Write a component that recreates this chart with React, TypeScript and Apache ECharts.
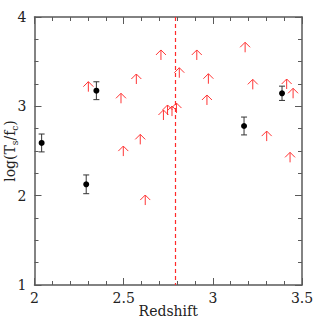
import React, { useEffect, useRef } from "react";
import * as echarts from "echarts";

// Lower limits (red upward arrows): redshift, log(Ts/fc)
const arrowX = [2.302, 2.571, 2.485, 2.709, 2.910, 2.812, 2.975, 2.967, 3.181, 3.224, 3.414, 3.450, 2.593, 2.498, 2.621, 3.302, 3.433, 2.723, 2.746, 2.771, 2.796];
const arrowY = [3.164, 3.250, 3.034, 3.519, 3.519, 3.320, 3.253, 3.015, 3.605, 3.190, 3.194, 3.090, 2.574, 2.443, 1.895, 2.611, 2.373, 2.847, 2.903, 2.891, 2.925];

// Detections (black points with error bars)
const pointX = [2.04, 2.29, 2.347, 3.175, 3.388];
const pointY = [2.59, 2.127, 3.175, 2.78, 3.146];
const pointErr = [0.1, 0.105, 0.1, 0.1, 0.08];

// Vertical dashed reference line
const refLineX = 2.79;

const xTicks = [2, 2.5, 3, 3.5];
const yTicks = [1, 2, 3, 4];

const RED = "#ff3535";
const AXIS = "#5a5a5a";
const FONT = "DejaVu Serif";

export default function App() {
  const ref = useRef<HTMLDivElement>(null);
  useEffect(() => {
    if (!ref.current) return;
    const chart = echarts.init(ref.current, null, { renderer: "svg" });
    const axisCommon = {
      type: "value",
      axisLine: { show: true, lineStyle: { color: AXIS, width: 1.5 } },
      axisTick: { show: true, inside: true, length: 7, lineStyle: { color: AXIS, width: 1 } },
      minorTick: { show: true, length: 4, lineStyle: { color: AXIS, width: 1 } },
      splitLine: { show: false },
      minorSplitLine: { show: false },
      axisPointer: { show: false },
    };
    const yMin = yTicks[0];
    const yMax = yTicks[yTicks.length - 1];
    chart.setOption({
      animation: false,
      backgroundColor: "#fff",
      tooltip: { show: false },
      grid: { left: 34.5, right: 17, top: 17, bottom: 34, containLabel: false, outerBoundsMode: "none" },
      xAxis: [
        {
          ...axisCommon,
          min: xTicks[0],
          max: xTicks[xTicks.length - 1],
          interval: 0.5,
          minorTick: { ...axisCommon.minorTick, splitNumber: 5 },
          axisLabel: {
            show: true,
            color: "#222",
            fontFamily: FONT,
            fontSize: 14,
            margin: 6,
            formatter: (v: number) => (xTicks.includes(v) ? String(v) : ""),
          },
          name: "Redshift",
          nameLocation: "middle",
          nameGap: 19,
          nameMoveOverlap: false,
          nameTextStyle: { color: "#222", fontFamily: FONT, fontSize: 14 },
        },
        {
          ...axisCommon,
          position: "top",
          min: xTicks[0],
          max: xTicks[xTicks.length - 1],
          interval: 0.5,
          minorTick: { ...axisCommon.minorTick, splitNumber: 5 },
          axisLabel: { show: false },
        },
      ],
      yAxis: [
        {
          ...axisCommon,
          min: yMin,
          max: yMax,
          interval: 1,
          minorTick: { ...axisCommon.minorTick, splitNumber: 4 },
          axisLabel: {
            show: true,
            color: "#222",
            fontFamily: FONT,
            fontSize: 14,
            margin: 8,
            formatter: (v: number) => String(v),
          },
          name: "{a|log(T}{b|s}{a|/f}{b|c}{a|)}",
          nameLocation: "middle",
          nameGap: 15,
          nameRotate: 90,
          nameMoveOverlap: false,
          nameTextStyle: {
            color: "#222",
            fontFamily: FONT,
            rich: {
              a: { fontSize: 14, fontFamily: FONT, color: "#222", lineHeight: 20, verticalAlign: "middle" },
              b: { fontSize: 9, fontFamily: FONT, color: "#222", lineHeight: 20, verticalAlign: "bottom" },
            },
          },
        },
        {
          ...axisCommon,
          position: "right",
          min: yMin,
          max: yMax,
          interval: 1,
          minorTick: { ...axisCommon.minorTick, splitNumber: 4 },
          axisLabel: { show: false },
        },
      ],
      series: [
        {
          type: "custom",
          data: [[refLineX]],
          itemStyle: { color: RED },
          renderItem: (params: any, api: any) => {
            const a = api.coord([api.value(0), yMax]);
            const b = api.coord([api.value(0), yMin]);
            const xx = Math.round(a[0]) + 0.5;
            return {
              type: "line",
              shape: { x1: xx, y1: a[1], x2: xx, y2: b[1] },
              style: { stroke: "#ff2a2a", fill: "none", lineWidth: 1.2, lineDash: [4, 3] },
            };
          },
        },
        {
          type: "custom",
          data: arrowX.map((x, i) => [x, arrowY[i]]),
          renderItem: (params: any, api: any) => {
            const p = api.coord([api.value(0), api.value(1)]);
            return {
              type: "group",
              children: [
                {
                  type: "line",
                  shape: { x1: p[0], y1: p[1], x2: p[0], y2: p[1] - 10 },
                  style: { stroke: RED, lineWidth: 1 },
                },
                {
                  type: "polyline",
                  shape: { points: [[p[0] - 5, p[1] - 5], [p[0], p[1] - 10], [p[0] + 5, p[1] - 5]] },
                  style: { stroke: RED, fill: "none", lineWidth: 1 },
                },
              ],
            };
          },
        },
        {
          type: "custom",
          data: pointX.map((x, i) => [x, pointY[i], pointErr[i]]),
          renderItem: (params: any, api: any) => {
            const x = api.value(0);
            const y = api.value(1);
            const e = api.value(2);
            const top = api.coord([x, y + e]);
            const bot = api.coord([x, y - e]);
            const c = api.coord([x, y]);
            const st = { stroke: "#333", lineWidth: 1 };
            return {
              type: "group",
              children: [
                { type: "line", shape: { x1: top[0], y1: top[1], x2: bot[0], y2: bot[1] }, style: st },
                { type: "line", shape: { x1: top[0] - 3, y1: top[1], x2: top[0] + 3, y2: top[1] }, style: st },
                { type: "line", shape: { x1: bot[0] - 3, y1: bot[1], x2: bot[0] + 3, y2: bot[1] }, style: st },
                { type: "circle", shape: { cx: c[0], cy: c[1], r: 3 }, style: { fill: "#000" } },
              ],
            };
          },
        },
      ],
    });
    return () => chart.dispose();
  }, []);
  return <div ref={ref} style={{ position: "absolute", left: 0, top: 0, width: 319, height: 319 }} />;
}
